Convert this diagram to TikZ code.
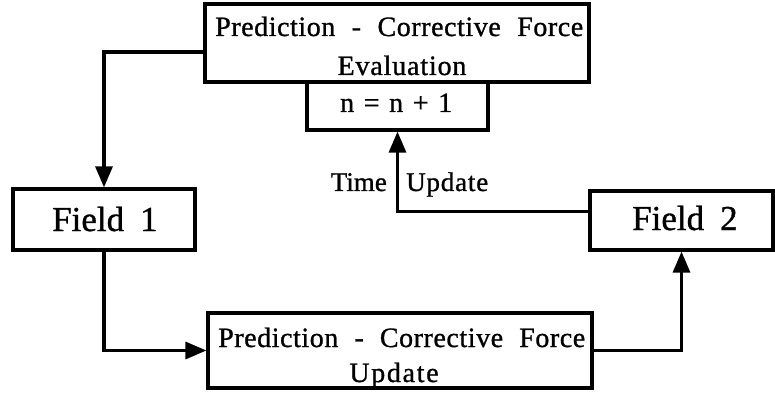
\documentclass[tikz,border=0pt]{standalone}
\usepackage{fontspec}
\setmainfont{Liberation Serif}[FakeBold=1.0]
\usetikzlibrary{arrows.meta}

% serif text at a given size with extra letter spacing
\newcommand{\txt}[2]{\fontsize{#1}{#1}\selectfont\addfontfeature{LetterSpace=#2}}

\tikzset{
  box/.style={draw, line width=3.2pt, inner sep=0pt},
  link/.style={line width=3.2pt},
  arr/.style={link, -{Triangle[length=21pt,width=17pt]}},
  lbl/.style={anchor=base west, inner sep=0pt},
}

\begin{document}
\begin{tikzpicture}[x=1pt, y=-1pt]
  \useasboundingbox (0,0) rectangle (775,395);

  % boxes
  \node[box, minimum width=384pt, minimum height=78pt] (top) at (397,43) {};
  \node[box, minimum width=181pt, minimum height=48pt] (inc) at (397.5,106) {};
  \node[box, minimum width=182pt, minimum height=61pt] (f1) at (104,219.5) {};
  \node[box, minimum width=183pt, minimum height=59pt] (f2) at (681.5,220.5) {};
  \node[box, minimum width=384pt, minimum height=75pt] (bot) at (400,350.5) {};

  % box texts
  \node[lbl] at (215,36)
    {\txt{28}{2}\makebox[368pt][s]{Prediction - Corrective Force}};
  \node[lbl, anchor=base] at (402,75) {\txt{28}{3}Evaluation};
  \node[lbl] at (340,112) {\txt{28}{1}\makebox[112pt][s]{n = n + 1}};
  \node[lbl] at (52,231) {\txt{35}{0}Field\hspace{16pt}1};
  \node[lbl] at (632,230) {\txt{35}{0}Field\hspace{16pt}2};
  \node[lbl] at (218,347)
    {\txt{28}{2}\makebox[367pt][s]{Prediction - Corrective Force}};
  \node[lbl, anchor=base] at (394,382) {\txt{28}{6}Update};

  % connectors
  \draw[arr] ([yshift=-9pt]top.west) -| (f1.north);
  \draw[arr] (f1.south) |- (bot.west);
  \draw[arr] (bot.east) -| (f2.south);
  \draw[arr] ([yshift=9pt]f2.west) -| (inc.south);

  % labels beside the time-update arrow
  \node[lbl, anchor=base east] at (387,191) {\txt{27}{0}Time};
  \node[lbl] at (406,191) {\txt{27}{3}Update};
\end{tikzpicture}
\end{document}
